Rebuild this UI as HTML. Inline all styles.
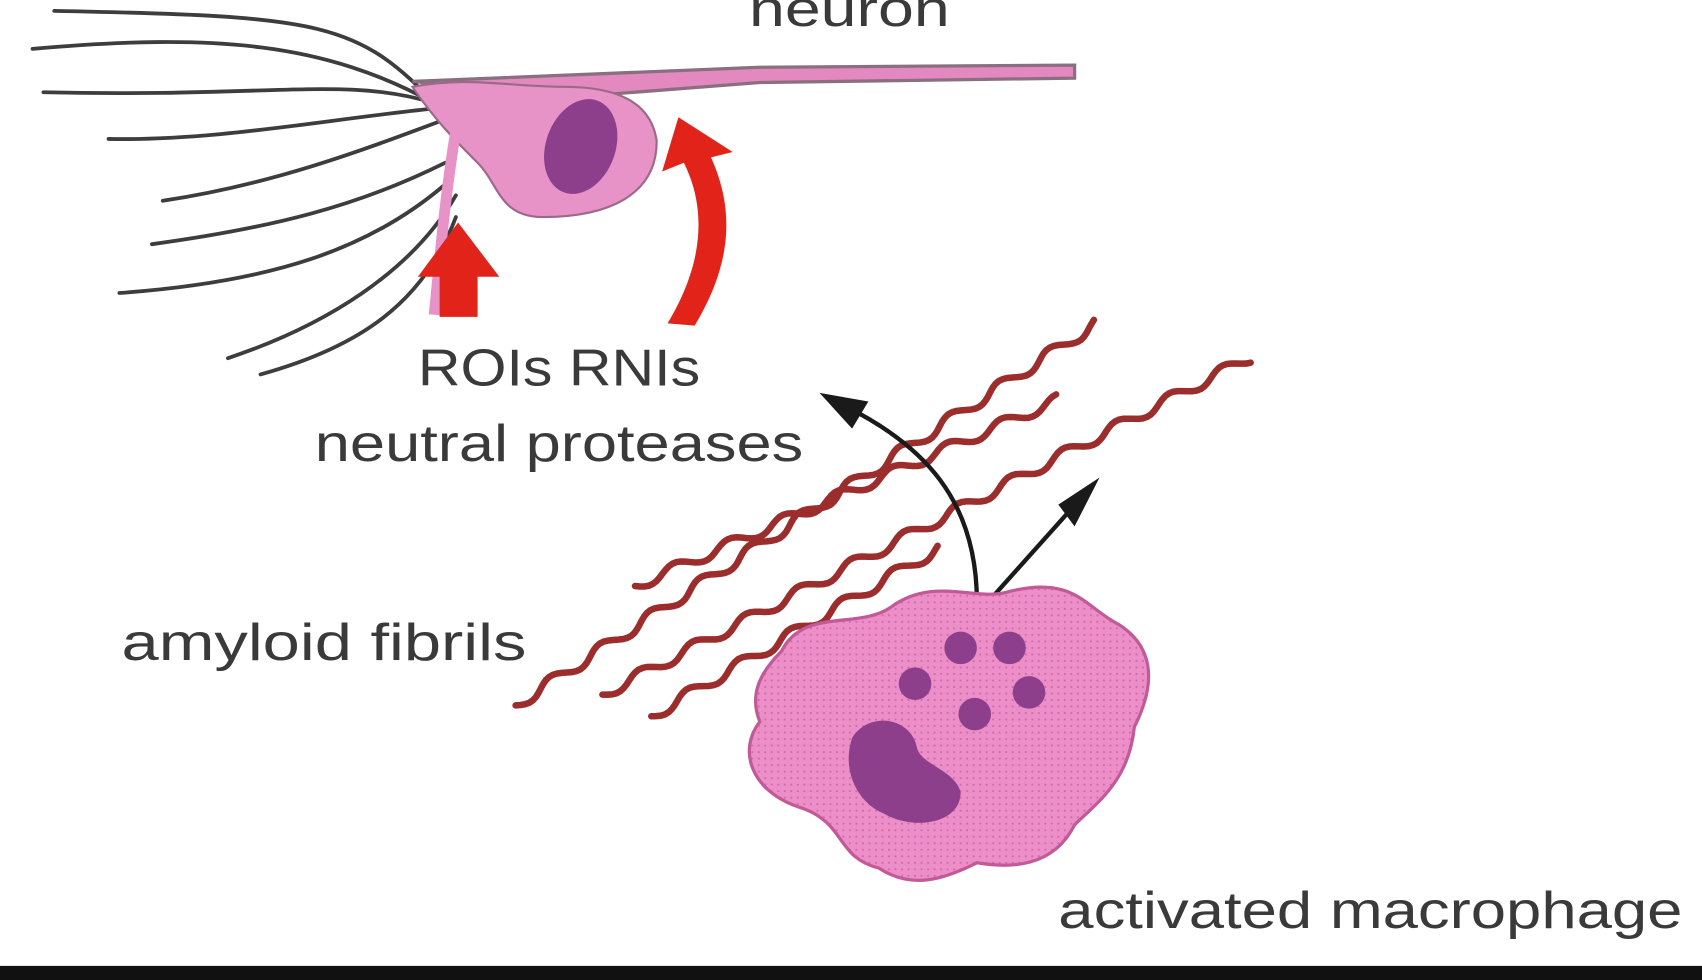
<!DOCTYPE html>
<html><head><meta charset="utf-8">
<style>
html,body{margin:0;padding:0;background:#fff;}
svg{display:block;}
text{font-family:"Liberation Sans",sans-serif;fill:#3a3a3a;}
</style></head>
<body>
<svg id="svg" width="1702" height="980" viewBox="0 0 1568 903" preserveAspectRatio="none" xmlns="http://www.w3.org/2000/svg">
<rect width="1568" height="903" fill="#fff"/>
<defs>
<pattern id="dots" width="6" height="6" patternUnits="userSpaceOnUse">
<rect width="6" height="6" fill="#ec8fc8"/><circle cx="3" cy="3" r="1" fill="#d06aa8"/></pattern>
</defs>

<g>
<text x="690" y="24" font-size="46" textLength="185" lengthAdjust="spacingAndGlyphs">neuron</text>
<g stroke="#3d3d3d" stroke-width="3.5" fill="none" stroke-linecap="round">
<path d="M400 95 C300 40 200 30 30 45"/>
<path d="M400 95 C320 70 250 90 40 85"/>
<path d="M405 100 C330 20 300 15 50 10"/>
<path d="M400 100 C300 110 200 130 100 128"/>
<path d="M410 110 C330 140 250 170 150 185"/>
<path d="M410 150 C330 190 250 210 140 225"/>
<path d="M410 170 C340 230 250 260 110 270"/>
<path d="M420 180 C380 250 300 300 210 330"/>
<path d="M420 200 C390 280 330 320 240 345"/>
</g>
<path d="M380 75 L700 62 L990 60 L990 72 L700 76 L520 90 Z" fill="#e489bf" stroke="#8a6f80" stroke-width="3"/>
<path d="M380 80 C430 70 470 80 520 80 C570 80 600 95 605 130 C605 180 560 200 500 200 C460 200 460 170 440 150 C420 130 400 110 380 80 Z" fill="#e893c7" stroke="#9a6a88" stroke-width="2"/>
<path d="M420 120 C410 180 405 240 400 290" stroke="#e893c7" stroke-width="10" fill="none"/>
<ellipse cx="535" cy="135" rx="32" ry="45" transform="rotate(20 535 135)" fill="#8e3f8c"/>
</g>

<g fill="#e2231a">
<path d="M405 292 L405 255 L385 255 L422 205 L460 255 L440 255 L440 292 Z"/>
<path d="M615 298 C650 240 650 190 630 150 L610 158 L625 108 L675 140 L655 145 C680 200 670 250 640 300 Z"/>
</g>
<text x="385" y="355" font-size="48" textLength="260" lengthAdjust="spacingAndGlyphs">ROIs RNIs</text>
<text x="290" y="425" font-size="48" textLength="450" lengthAdjust="spacingAndGlyphs">neutral proteases</text>

<g id="fibrils" stroke="#9c2d2d" stroke-width="6" fill="none" stroke-linecap="round"></g>

<g stroke="#1a1a1a" stroke-width="4" fill="none">
<path d="M900 555 C900 460 850 410 780 375"/>
<path d="M910 555 L995 460"/>
</g>
<polygon points="755,362 800,370 785,395" fill="#1a1a1a"/>
<polygon points="1013,440 990,485 975,465" fill="#1a1a1a"/>

<text x="112" y="608" font-size="48" textLength="373" lengthAdjust="spacingAndGlyphs">amyloid fibrils</text>

<g>
<path d="M720 600 C740 560 790 580 820 560 C860 530 900 555 930 545 C990 530 1000 560 1030 575 C1070 600 1060 640 1045 670 C1040 720 1010 740 990 760 C970 800 930 800 900 795 C870 810 840 820 810 800 C770 790 780 760 740 745 C690 730 680 690 700 665 C690 640 700 620 720 600 Z" fill="url(#dots)" stroke="#c25a98" stroke-width="3"/>
<path d="M785 680 C800 655 840 660 845 690 C850 705 880 710 885 730 C885 760 840 765 815 750 C790 740 775 710 785 680 Z" fill="#8e3f8c"/>
<g fill="#8e3f8c">
<circle cx="885" cy="597" r="15"/><circle cx="930" cy="597" r="15"/>
<circle cx="843" cy="630" r="15"/><circle cx="948" cy="638" r="15"/>
<circle cx="898" cy="658" r="15"/>
</g>
</g>
<text x="975" y="855" font-size="48" textLength="575" lengthAdjust="spacingAndGlyphs">activated macrophage</text>

<rect x="0" y="890" width="1568" height="13" fill="#111"/>
</svg>
<script>
const fibrilStarts=[[585,540],[475,650],[555,640],[600,660]];
const fibrilEnds=[[975,368],[1010,298],[1150,330],[865,505]];
const g=document.getElementById('fibrils');
fibrilStarts.forEach((s,i)=>{
  const e=fibrilEnds[i];
  const dx=e[0]-s[0],dy=e[1]-s[1],L=Math.hypot(dx,dy);
  const nx=-dy/L,ny=dx/L;
  const n=Math.round(L/4);
  let d='';
  for(let k=0;k<=n;k++){
    const t=k/n,w=5*Math.sin(t*L/55*2*Math.PI);
    d+=(k?'L':'M')+(s[0]+dx*t+nx*w).toFixed(1)+' '+(s[1]+dy*t+ny*w).toFixed(1);
  }
  const p=document.createElementNS('http://www.w3.org/2000/svg','path');
  p.setAttribute('d',d);
  
  
  g.appendChild(p);
});
</script>
</body></html>
